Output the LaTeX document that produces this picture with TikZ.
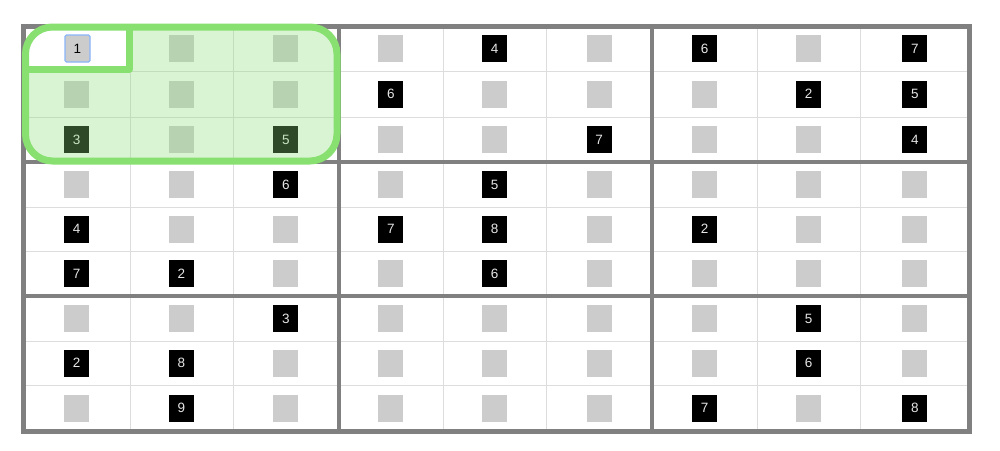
\documentclass[tikz,border=0pt]{standalone}
\usepackage{fontspec}
\setmainfont{Liberation Sans}
\definecolor{thinline}{HTML}{DDDDDD}
\definecolor{boxline}{HTML}{808080}
\definecolor{emptysq}{HTML}{CCCCCC}
\definecolor{digit}{HTML}{E6E6E6}
\definecolor{selblue}{HTML}{8AB4F8}
\definecolor{hlfill}{RGB}{142,224,122}
\definecolor{hlstroke}{RGB}{136,224,112}
\begin{document}
\begin{tikzpicture}[x=1pt,y=-1pt,
  emptybox/.style={fill=emptysq,minimum width=25pt,minimum height=27pt,inner sep=0pt},
  givenbox/.style={fill=black,text=digit,minimum width=25pt,minimum height=27pt,inner sep=0pt,font=\fontsize{13.5}{15}\selectfont},
  selbox/.style={fill=emptysq,draw=selblue,line width=1.2pt,rounded corners=1.5pt,text=black,minimum width=25pt,minimum height=27pt,inner sep=0pt,font=\fontsize{13.5}{15}\selectfont},
  thin/.style={draw=thinline,line width=1pt},
  thick/.style={draw=boxline,line width=4pt},
  outer/.style={draw=boxline,line width=5pt},
  hlarea/.style={fill=hlfill,fill opacity=0.33},
  hledge/.style={draw=hlstroke,line width=7pt,line join=round}]
\useasboundingbox (0,0) rectangle (1000,450);
\fill[white] (0,0) rectangle (1000,450);
% thin grid lines
\foreach \x in {130,233,443,546,757,860} \draw[thin] (\x,26) -- (\x,431);
\foreach \y in {71,117,207,251,341,385} \draw[thin] (23.5,\y) -- (969.5,\y);
% cells
\def\cxs{{76.75,181.5,285.75,390.75,494.5,599,704.5,808.5,914.75}}
\def\cys{{48.5,94,139.5,184.5,229,273.5,318.5,363,408}}
\foreach \row [count=\r] in {
  {-1,0,0,0,4,0,6,0,7},
  {0,0,0,6,0,0,0,2,5},
  {3,0,5,0,0,7,0,0,4},
  {0,0,6,0,5,0,0,0,0},
  {4,0,0,7,8,0,2,0,0},
  {7,2,0,0,6,0,0,0,0},
  {0,0,3,0,0,0,0,5,0},
  {2,8,0,0,0,0,0,6,0},
  {0,9,0,0,0,0,7,0,8}}{
  \foreach \v [count=\c] in \row {
    \pgfmathsetmacro\cx{\cxs[\c-1]}
    \pgfmathsetmacro\cy{\cys[\r-1]}
    \ifnum\v<0\relax
    \else
      \ifnum\v=0\relax
        \node[emptybox] (s-\r-\c) at (\cx,\cy) {};
      \else
        \node[givenbox] (s-\r-\c) at (\cx,\cy) {\v};
      \fi
    \fi
  }
}
% highlight fill (box 1 without the selected cell)
\begin{scope}
  \clip[rounded corners=27pt] (25.5,27) rectangle (337,161);
  \fill[hlarea,even odd rule] (25.5,27) rectangle (337,161) (15,15) rectangle (129.5,69);
\end{scope}
% box lines
\draw[thick] (338.5,26) -- (338.5,431);
\draw[thick] (652,26) -- (652,431);
\draw[thick] (23.5,162) -- (969.5,162);
\draw[thick] (23.5,296) -- (969.5,296);
\draw[outer] (23.5,26) rectangle (969.5,431);
% highlight outline
\draw[hledge,rounded corners=27pt] (25.5,27) rectangle (337,161);
\draw[hledge,line cap=rect] (25.5,69) -- (129.5,69) -- (129.5,27);
% selected cell
\node[selbox] (s-1-1) at (77.5,48.5) {1};
\end{tikzpicture}
\end{document}
